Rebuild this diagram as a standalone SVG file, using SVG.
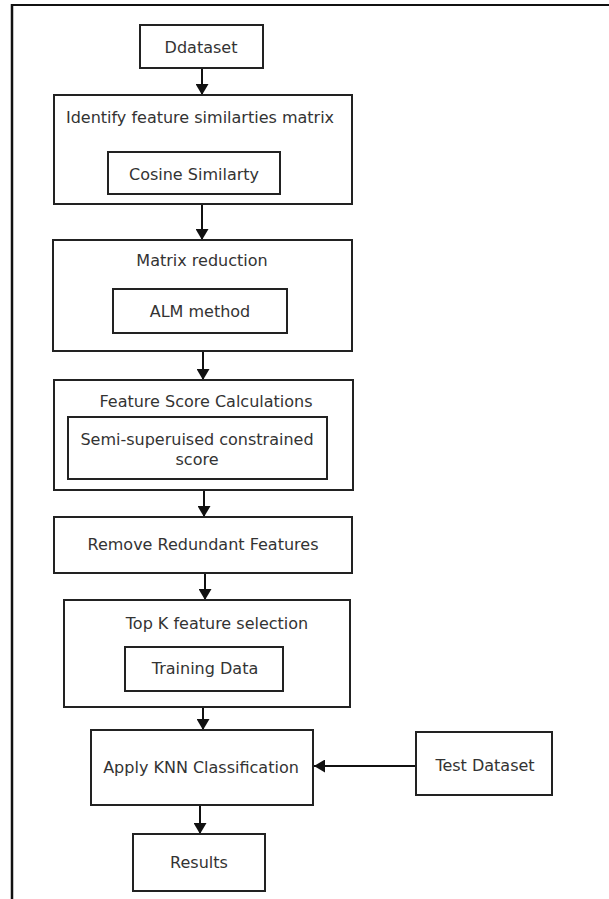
<svg xmlns="http://www.w3.org/2000/svg" width="609" height="899" viewBox="0 0 609 899">
<style>
.box{fill:#fff;stroke:#222;stroke-width:2}
.t{font-family:"DejaVu Sans",Verdana,sans-serif;font-size:16px;fill:#333;text-anchor:middle}
.c{stroke:#111;stroke-width:2;fill:none}
</style>
<defs>
<marker id="ah" markerUnits="userSpaceOnUse" markerWidth="14" markerHeight="13" refX="11" refY="6.5" orient="auto">
<path d="M0,0 L11,6.5 L0,13 Z" fill="#111"/>
</marker>
</defs>
<rect width="609" height="899" fill="#fff"/>
<g id="frame">
<line x1="11" y1="5" x2="609" y2="5" stroke="#111" stroke-width="2"/>
<line x1="12" y1="4" x2="12" y2="899" stroke="#111" stroke-width="2.5"/>
</g>
<g id="connectors">
<line class="c" x1="202" y1="68" x2="202" y2="95" marker-end="url(#ah)"/>
<line class="c" x1="202" y1="204" x2="202" y2="240" marker-end="url(#ah)"/>
<line class="c" x1="203" y1="351" x2="203" y2="380" marker-end="url(#ah)"/>
<line class="c" x1="204" y1="490" x2="204" y2="517" marker-end="url(#ah)"/>
<line class="c" x1="205" y1="573" x2="205" y2="600" marker-end="url(#ah)"/>
<line class="c" x1="203" y1="707" x2="203" y2="730" marker-end="url(#ah)"/>
<line class="c" x1="416" y1="766" x2="314" y2="766" marker-end="url(#ah)"/>
<line class="c" x1="200" y1="805" x2="200" y2="834" marker-end="url(#ah)"/>
</g>
<g id="ddataset">
<rect class="box" x="140" y="25" width="123" height="43"/>
<text class="t" x="201" y="53">Ddataset</text>
</g>
<g id="identify">
<rect class="box" x="54" y="95" width="298" height="109"/>
<text class="t" x="200" y="123">Identify feature similarties matrix</text>
</g>
<g id="cosine">
<rect class="box" x="108" y="152" width="172" height="42"/>
<text class="t" x="194" y="180">Cosine Similarty</text>
</g>
<g id="matrix">
<rect class="box" x="53" y="240" width="299" height="111"/>
<text class="t" x="202" y="266">Matrix reduction</text>
</g>
<g id="alm">
<rect class="box" x="113" y="289" width="174" height="44"/>
<text class="t" x="200" y="317">ALM method</text>
</g>
<g id="featurescore">
<rect class="box" x="54" y="380" width="299" height="110"/>
<text class="t" x="206" y="407">Feature Score Calculations</text>
</g>
<g id="semi">
<rect class="box" x="68" y="417" width="259" height="62"/>
<text class="t" x="197" y="445">Semi-superuised constrained</text>
<text class="t" x="197" y="465">score</text>
</g>
<g id="remove">
<rect class="box" x="54" y="517" width="298" height="56"/>
<text class="t" x="203" y="550">Remove Redundant Features</text>
</g>
<g id="topk">
<rect class="box" x="64" y="600" width="286" height="107"/>
<text class="t" x="217" y="629">Top K feature selection</text>
</g>
<g id="training">
<rect class="box" x="125" y="647" width="158" height="44"/>
<text class="t" x="205" y="674">Training Data</text>
</g>
<g id="apply">
<rect class="box" x="91" y="730" width="222" height="75"/>
<text class="t" x="201" y="773">Apply KNN Classification</text>
</g>
<g id="test">
<rect class="box" x="416" y="732" width="136" height="63"/>
<text class="t" x="485" y="771">Test Dataset</text>
</g>
<g id="results">
<rect class="box" x="133" y="834" width="132" height="57"/>
<text class="t" x="199" y="868">Results</text>
</g>
</svg>
